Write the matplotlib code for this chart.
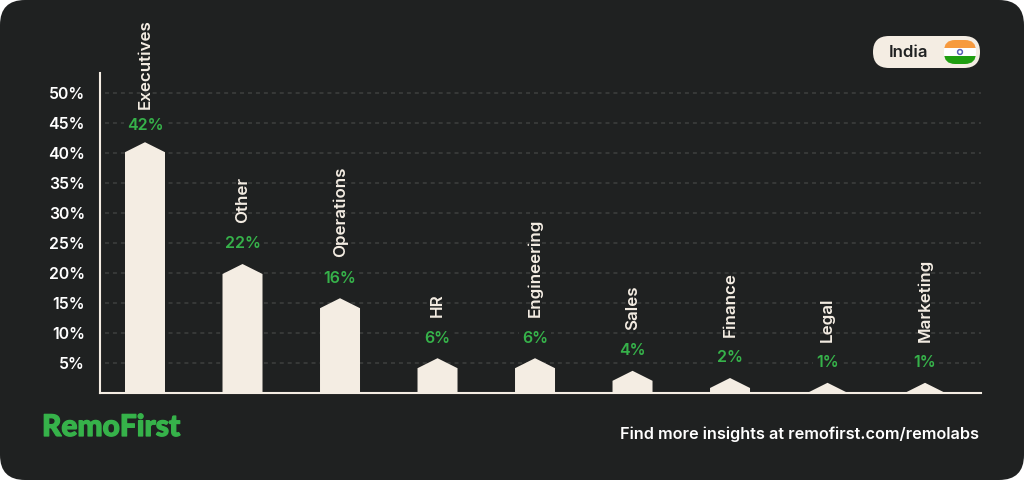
from __future__ import annotations

import matplotlib

matplotlib.use("Agg")

import matplotlib.patheffects as pe
import matplotlib.pyplot as plt
from matplotlib.patches import Circle, FancyBboxPatch, Polygon, Rectangle

categories = ["Executives", "Other", "Operations", "HR", "Engineering", "Sales", "Finance", "Legal", "Marketing"]
peaks = [41.8, 21.5, 15.8, 5.8, 5.8, 3.7, 2.5, 1.7, 1.7]
labels = ["42%", "22%", "16%", "6%", "6%", "4%", "2%", "1%", "1%"]
yticks = [5, 10, 15, 20, 25, 30, 35, 40, 45, 50]

BG = "#1f2121"
CREAM = "#f4ede3"
GREEN = "#36b24a"
GRID = "#3e403f"
W, H = 1024, 480

plt.rcParams["font.family"] = ["Inter", "DejaVu Sans"]

fig = plt.figure(figsize=(W / 100, H / 100), dpi=100, facecolor="white")

# pixel space overlay for the card, pill and footer
deco = fig.add_axes([0, 0, 1, 1], zorder=0)
deco.set_xlim(0, W)
deco.set_ylim(H, 0)
deco.axis("off")
deco.add_patch(FancyBboxPatch((25, 25), W - 50, H - 50, boxstyle="round,pad=25,rounding_size=25", fc=BG, ec="none"))

# chart axes, 6 px per percentage point
ax = fig.add_axes([99.5 / W, (H - 393) / H, (981 - 99.5) / W, 320 / H], zorder=1)
ax.patch.set_visible(False)
ax.set_xlim(-0.4667, 8.574)
ax.set_ylim(0, 320 / 6)

ax.hlines(yticks, -0.41, 8.574, color=GRID, lw=1.1, linestyles=(0, (2.6, 2.6)), zorder=1)

half = 20 / 97.5
shoulder = 10 / 6
for i, (cat, peak, lab) in enumerate(zip(categories, peaks, labels)):
    top = max(peak - shoulder, 0)
    if top > 0:
        pts = [(i - half, 0), (i - half, top), (i, peak), (i + half, top), (i + half, 0)]
    else:
        pts = [(i - half, 0), (i, peak), (i + half, 0)]
    ax.add_patch(Polygon(pts, closed=True, fc=CREAM, ec="none", zorder=2))
    # the tallest bar has its labels pushed down to stay on the card
    squeeze = 1 if i == 0 else 0
    ax.text(
        i, peak + (20 - 3.5 * squeeze) / 6, lab, color=GREEN, fontsize=11.5, fontweight=600, ha="center", va="center",
        zorder=3, bbox=dict(fc=BG, ec="none", pad=2),
    )
    ax.text(
        i, peak + (41 - 8 * squeeze) / 6, cat, color=CREAM, fontsize=12.2, fontweight=600, rotation=90,
        ha="center", va="bottom", zorder=3, clip_on=False,
    )

for side in ("top", "right"):
    ax.spines[side].set_visible(False)
for side in ("left", "bottom"):
    ax.spines[side].set_color(CREAM)
    ax.spines[side].set_linewidth(1.5)
ax.set_xticks([])
ax.set_yticks(yticks, [f"{v}%" for v in yticks])
ax.tick_params(axis="y", length=0, pad=10.5, labelsize=11.4, labelcolor="#ffffff")
for t in ax.get_yticklabels():
    t.set_fontweight(600)

# country pill
deco.add_patch(FancyBboxPatch((889, 52), 75, 0, boxstyle="round,pad=16,rounding_size=16", fc=CREAM, ec="none"))
deco.text(909, 52.5, "India", color=BG, fontsize=12, fontweight=600, ha="center", va="center")
flag = FancyBboxPatch((955, 51), 10, 2, boxstyle="round,pad=11,rounding_size=11", fc="none", ec="none")
deco.add_patch(flag)
for y0, hh, col in [(40, 8, "#f79a3e"), (48, 8, "#ffffff"), (56, 8, "#1f9e10")]:
    stripe = Rectangle((944, y0), 32, hh, fc=col, ec="none", zorder=3)
    deco.add_patch(stripe)
    stripe.set_clip_path(flag)
deco.add_patch(Circle((960, 52), 2.4, fc="none", ec="#5a5fb5", lw=1.1, zorder=4))

# footer
logo = deco.text(42, 427, "RemoFirst", color=GREEN, fontsize=21.5, fontweight=900, ha="left", va="center", family="Lato")
logo.set_path_effects([pe.withStroke(linewidth=0.9, foreground=GREEN)])
deco.text(979.5, 434.5, "Find more insights at remofirst.com/remolabs", color="#ffffff", fontsize=11.7, fontweight=600, ha="right", va="center")

fig.savefig("out.png", dpi=100, facecolor="white")
plt.close(fig)
